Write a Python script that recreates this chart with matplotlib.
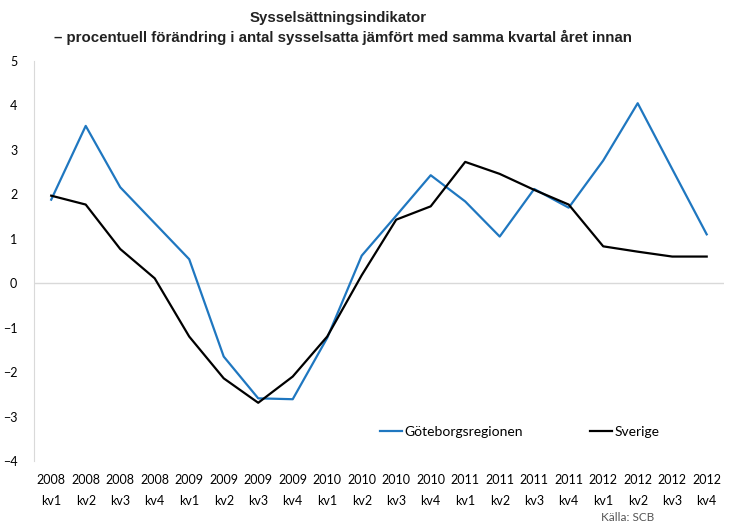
import numpy as np
import matplotlib.pyplot as plt

# data
years = ['2008', '2009', '2010', '2011', '2012']
quarters = ['kv1', 'kv2', 'kv3', 'kv4']
labels = [y + '\n' + q for y in years for q in quarters]

goteborg = [1.88, 3.54, 2.16, 1.35, 0.54, -1.65, -2.59, -2.61, -1.23, 0.62,
            1.52, 2.43, 1.84, 1.05, 2.12, 1.70, 2.76, 4.05, 2.57, 1.10]
sverige = [1.97, 1.77, 0.77, 0.11, -1.20, -2.14, -2.69, -2.10, -1.20, 0.18,
           1.43, 1.73, 2.73, 2.46, 2.10, 1.77, 0.83, 0.71, 0.60, 0.60]

plt.rcParams['font.family'] = ['Lato', 'DejaVu Sans']

fig = plt.figure(figsize=(7.32, 5.25), dpi=100)
ax = fig.add_axes([0.0464, 0.1219, 0.9426, 0.7619])

x = np.arange(len(labels))
ax.axhline(0, color='#d9d9d9', lw=1, zorder=1)
ax.plot(x, goteborg, color='#1f77c0', lw=1.6, label='Göteborgsregionen', zorder=3)
ax.plot(x, sverige, color='black', lw=1.6, label='Sverige', zorder=3)

ax.set_xlim(-0.5, len(labels) - 0.5)
ax.set_ylim(-4, 5)
ax.set_yticks(range(-4, 6))
ax.set_xticks(x)
ax.set_xticklabels(labels, linespacing=1.9)
ax.tick_params(axis='both', length=0, labelsize=9)
ax.tick_params(axis='y', pad=12)
ax.tick_params(axis='x', pad=9)
for s in ['top', 'right', 'bottom']:
    ax.spines[s].set_visible(False)
ax.spines['left'].set_color('#d9d9d9')

ax.legend(loc='center left', bbox_to_anchor=(0.483, 0.072), ncol=2, frameon=False,
          handlelength=1.6, handletextpad=0.2, columnspacing=4.8, fontsize=10)

fig.text(0.462, 0.966, 'Sysselsättningsindikator', ha='center', va='center',
         fontsize=10.8, fontweight='bold', family='Liberation Sans', color='#222222')
fig.text(0.469, 0.929, '– procentuell förändring i antal sysselsatta jämfört med samma kvartal året innan',
         ha='center', va='center', fontsize=10.8, fontweight='bold', family='Liberation Sans',
         color='#222222')
fig.text(0.858, 0.015, 'Källa: SCB', ha='center', va='center', fontsize=8.5, color='#555555')

fig.savefig('out.png', dpi=100)
